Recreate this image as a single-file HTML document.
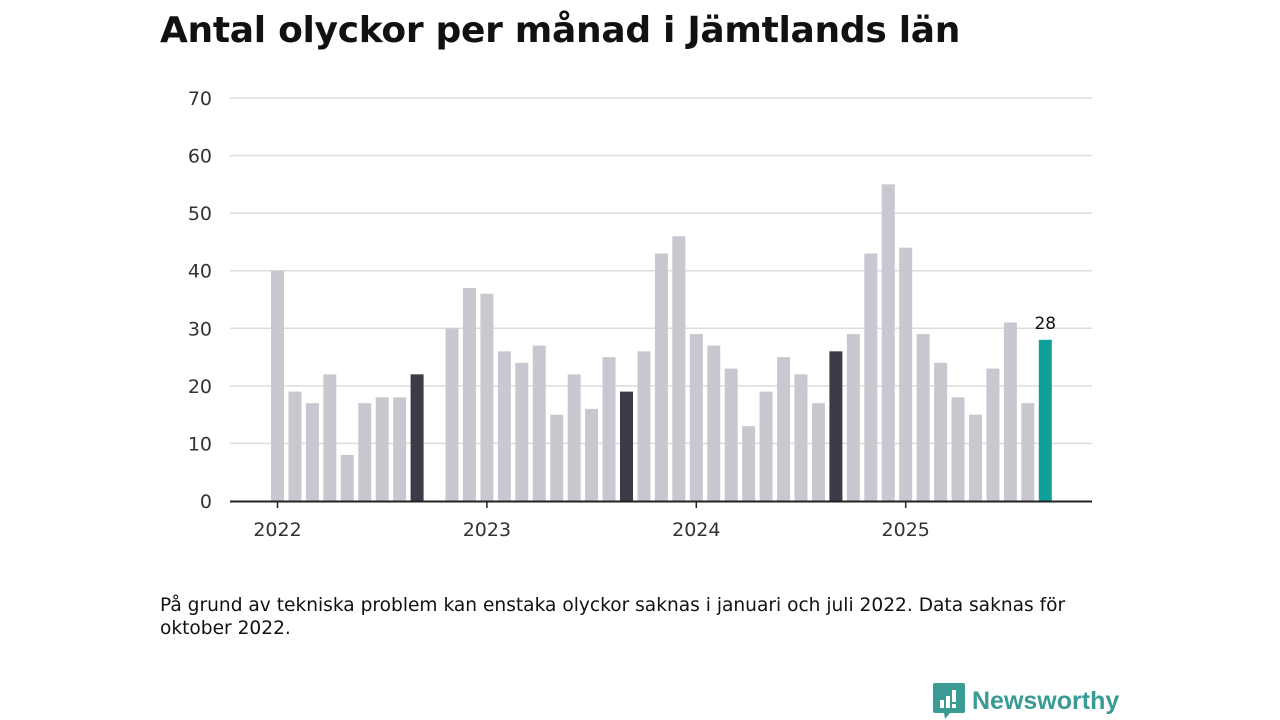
<!DOCTYPE html>
<html><head><meta charset="utf-8"><style>
body{margin:0;width:1280px;height:720px;background:#fff;font-family:"DejaVu Sans","Liberation Sans",sans-serif;overflow:hidden;position:relative}
h1{position:absolute;left:160px;top:10px;margin:0;font-size:36px;font-weight:bold;color:#111;letter-spacing:-0.3px}
.note{position:absolute;left:160px;top:594px;font-size:18.6px;color:#111;line-height:23px;width:950px}
.logo{position:absolute;left:933px;top:683px;display:flex;align-items:center}
.logo span{font-family:"Liberation Sans",sans-serif;font-weight:bold;font-size:25px;color:#3a9a94;margin-left:7px}
</style></head><body>
<h1>Antal olyckor per månad i Jämtlands län</h1>
<svg id="chart" width="1280" height="720" style="position:absolute;left:0;top:0"></svg>
<div class="note">På grund av tekniska problem kan enstaka olyckor saknas i januari och juli 2022. Data saknas för oktober 2022.</div>
<div class="logo">
<svg width="32" height="36" viewBox="0 0 32 36"><path d="M2 0h28a2 2 0 0 1 2 2v26a2 2 0 0 1-2 2H17l-5 6-1-6H2a2 2 0 0 1-2-2V2a2 2 0 0 1 2-2z" fill="#3a9a94"/><rect x="7" y="17" width="4" height="8" fill="#fff"/><rect x="13" y="13" width="4" height="12" fill="#fff"/><rect x="19" y="7" width="4" height="12" fill="#fff"/><rect x="19" y="21" width="4" height="4" fill="#fff"/></svg>
<span>Newsworthy</span></div>
<script>
const values=[40,19,17,22,8,17,18,18,22,null,30,37,36,26,24,27,15,22,16,25,19,26,43,46,29,27,23,13,19,25,22,17,26,29,43,55,44,29,24,18,15,23,31,17,28];
const yTicks=[0,10,20,30,40,50,60,70];
const yearLabels=["2022","2023","2024","2025"];
const NS="http://www.w3.org/2000/svg";
const svg=document.getElementById('chart');
const x=i=>277.5+i*17.45;
const y=v=>501-v*5.757;
function mk(t,a){const e=document.createElementNS(NS,t);for(const k in a)e.setAttribute(k,a[k]);svg.appendChild(e);return e;}
yTicks.forEach(v=>{
 if(v>0){const g=mk('line',{x1:230,x2:1092,y1:y(v),y2:y(v),stroke:'#dcdcdc','stroke-width':1.5});
 
 }
 const t=mk('text',{x:212,y:y(v)+7,'text-anchor':'end','font-size':19,fill:'#333','font-family':'DejaVu Sans, sans-serif'});
 t.textContent=v;
 
 
});
values.forEach((v,i)=>{
 if(v===null)return;
 const last=i===values.length-1;
 const col=last?'#0fa197':(i%12===8?'#3c3c48':'#c9c8d0');
 const r=mk('rect',{x:x(i)-6.5,y:y(v),width:13,height:y(0)-y(v),fill:col});
 
 
 if(last){const t=mk('text',{x:x(i),y:y(v)-11,'text-anchor':'middle','font-size':17,fill:'#111','font-family':'DejaVu Sans, sans-serif'});t.textContent=v;
 
 }
});
const ax=mk('line',{x1:230,x2:1092,y1:501.5,y2:501.5,stroke:'#222','stroke-width':2});


yearLabels.forEach((l,k)=>{
 const xx=x(k*12);
 mk('line',{x1:xx,x2:xx,y1:502,y2:508,stroke:'#222','stroke-width':1.5});
 const t=mk('text',{x:xx,y:536,'text-anchor':'middle','font-size':19,fill:'#333','font-family':'DejaVu Sans, sans-serif'});
 t.textContent=l;
 
 
});
</script>
</body></html>
